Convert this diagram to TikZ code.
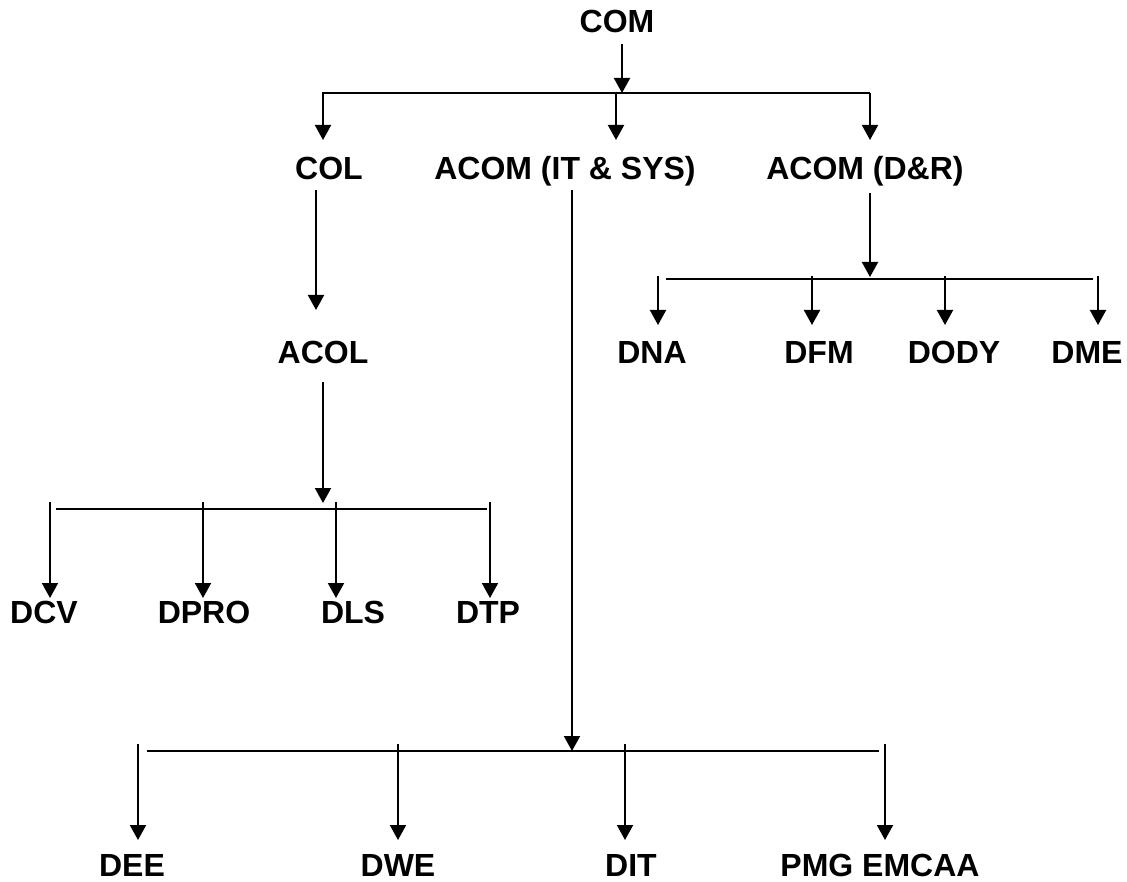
\documentclass[tikz,border=0pt]{standalone}
\usepackage{fontspec}
\setmainfont{Liberation Sans}
\usetikzlibrary{arrows.meta}
\begin{document}
\begin{tikzpicture}[x=1pt,y=-1pt,
  lbl/.style={inner sep=0pt,anchor=base,font=\fontsize{32}{38}\selectfont\bfseries},
  arr/.style={line width=2pt,-{Triangle[width=16pt,length=15pt]}},
  barline/.style={line width=2pt}]
\useasboundingbox (0,0) rectangle (1127,882);
% labels
\node[lbl] (com) at (617,33) {COM};
\node[lbl] (col) at (329,180) {COL};
\node[lbl] (acomit) at (565,180) {ACOM (IT \& SYS)};
\node[lbl] (acomdr) at (865,180) {ACOM (D\&R)};
\node[lbl] (acol) at (323,363) {ACOL};
\node[lbl] (dna) at (652,364) {DNA};
\node[lbl] (dfm) at (819,364) {DFM};
\node[lbl] (dody) at (954,364) {DODY};
\node[lbl] (dme) at (1087,364) {DME};
\node[lbl] (dcv) at (44,623) {DCV};
\node[lbl] (dpro) at (204,623) {DPRO};
\node[lbl] (dls) at (353,623) {DLS};
\node[lbl] (dtp) at (488,623) {DTP};
\node[lbl] (dee) at (132,876) {DEE};
\node[lbl] (dwe) at (398,876) {DWE};
\node[lbl] (dit) at (631,876) {DIT};
\node[lbl] (pmg) at (880,876) {PMG EMCAA};
% level 1
\coordinate (c0) at (622,44);
\coordinate (c0t) at (622,93);
\coordinate (b1l) at (323,93);
\coordinate (b1m) at (616,93);
\coordinate (b1r) at (870,93);
\coordinate (colin) at (323,140);
\coordinate (itin) at (616,140);
\coordinate (drin) at (870,140);
\draw[arr] (c0) -- (c0t);
\draw[arr] (b1r) -- (b1l) -- (colin);
\draw[arr] (b1r) -- (drin);
\draw[arr] (b1m) -- (itin);
% COL -> ACOL
\coordinate (colout) at (316,190);
\coordinate (acolin) at (316,310);
\draw[arr] (colout) -- (acolin);
% ACOL branch
\coordinate (acolout) at (323,382);
\coordinate (acolj) at (323,503);
\draw[arr] (acolout) -- (acolj);
\coordinate (b2l) at (56,509);
\coordinate (b2r) at (487,509);
\draw[barline] (b2l) -- (b2r);
\foreach \x/\n in {50/dcvin,203/dproin,336/dlsin,490/dtpin}{
  \coordinate (\n s) at (\x,502);
  \coordinate (\n) at (\x,598);
  \draw[arr] (\n s) -- (\n);
}
% ACOM (IT & SYS) branch
\coordinate (itout) at (572,190);
\coordinate (itj) at (572,751);
\draw[arr] (itout) -- (itj);
\coordinate (b3l) at (147,751);
\coordinate (b3r) at (879,751);
\draw[barline] (b3l) -- (b3r);
\foreach \x/\n in {138/deein,398/dwein,625/ditin,885/pmgin}{
  \coordinate (\n s) at (\x,744);
  \coordinate (\n) at (\x,840);
  \draw[arr] (\n s) -- (\n);
}
% ACOM (D&R) branch
\coordinate (drout) at (870,193);
\coordinate (drj) at (870,277);
\draw[arr] (drout) -- (drj);
\coordinate (b4l) at (666,279);
\coordinate (b4r) at (1093,279);
\draw[barline] (b4l) -- (b4r);
\foreach \x/\n in {658/dnain,812/dfmin,945/dodyin,1098/dmein}{
  \coordinate (\n s) at (\x,276);
  \coordinate (\n) at (\x,325);
  \draw[arr] (\n s) -- (\n);
}
\end{tikzpicture}
\end{document}
